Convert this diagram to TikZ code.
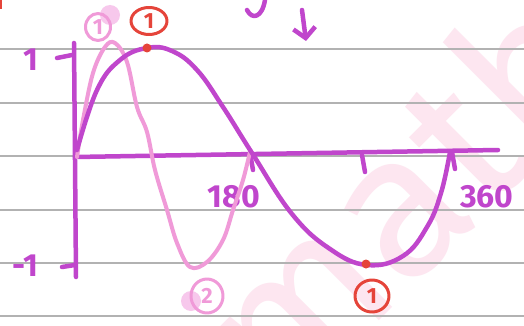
\documentclass[tikz,border=0pt]{standalone}
\usepackage{fontspec}
\setmainfont{Fira Sans}
\usepackage{xcolor}
\definecolor{penPurple}{HTML}{C046CC}
\definecolor{penPink}{HTML}{F09AD8}
\definecolor{penBlob}{HTML}{F7C8EC}
\definecolor{penRed}{HTML}{E5443A}
\definecolor{paperLine}{HTML}{B2B2B2}
\definecolor{wmPink}{HTML}{FDE6F0}
\usetikzlibrary{arrows.meta, shapes.geometric}

\begin{document}
\begin{tikzpicture}[x=1pt, y=-1pt, line cap=round, line join=round,
  pen/.style={draw=penPurple, line width=4.5pt},
  pinkpen/.style={draw=penPink, line width=4pt},
  penlabel/.style={text=penPurple, inner sep=0pt, font=\bfseries\fontsize{32}{32}\selectfont},
  ringlabel/.style={ellipse, line width=3pt, inner sep=0pt, font=\bfseries\fontsize{22}{22}\selectfont}]
  \useasboundingbox[fill=white] (0,0) rectangle (524,326);
  % watermark
  \node[rotate=45, text=wmPink, font=\fontsize{205}{205}\selectfont] (wm) at (398,195) {math};
  % ruled paper
  \foreach \ly in {49,103,156,210,263,316}
    \draw[paperLine, line width=1.2pt] (0,\ly) -- (524,\ly);
  % axes
  \coordinate (O) at (75,157);
  \coordinate (ytop) at (74,43);
  \coordinate (ybot) at (76,277);
  \coordinate (xend) at (498,150);
  \draw[pen] (ytop) -- (ybot);
  \draw[pen] (O) -- (xend);
  % tick marks and labels
  \coordinate (tickA) at (57,58);
  \coordinate (tickAx) at (72,55);
  \coordinate (tickB) at (62,267);
  \coordinate (tickBx) at (75,265);
  \draw[pen] (tickA) -- (tickAx);
  \draw[pen] (tickB) -- (tickBx);
  \foreach \tx/\ty in {250/153, 362/155, 452/152}
    \draw[pen] (\tx,\ty) -- (\tx+3,\ty+17);
  \node[penlabel] (one) at (31,60) {1};
  \node[penlabel] (minusone) at (25,266) {-1};
  \node[penlabel] (deg180) at (234,197) {180};
  \node[penlabel] (deg360) at (487,197) {360};
  % sin 2x
  \draw[pinkpen] plot[smooth, tension=0.6] coordinates {(77,157) (83,120) (93,73) (105,47) (115,43) (127,62)
    (137,107) (147,132) (155,170) (167,210) (177,243) (190,267) (207,262) (223,240) (233,210) (243,180) (250,152)};
  % sin x
  \draw[pen] plot[smooth, tension=0.7] coordinates {(77,150) (97,90) (120,60) (147,48) (172,51)
    (197,70) (223,107) (252,153) (292,214) (330,249) (367,265) (403,256) (427,227) (441,193) (450,152)};
  % maximum and minimum markers
  \node[circle, fill=penRed, inner sep=0pt, minimum size=9pt] (topdot) at (147,48) {};
  \node[circle, fill=penRed, inner sep=0pt, minimum size=9pt] (botdot) at (366,264) {};
  \node[ringlabel, draw=penRed, text=penRed, minimum width=36pt, minimum height=27pt] (topmark) at (149,21) {1};
  \node[ringlabel, draw=penRed, text=penRed, minimum width=34pt, minimum height=32pt] (botmark) at (372,296) {1};
  \fill[penBlob] (110,15) circle (10);
  \fill[penBlob] (191,301) circle (10);
  \node[ringlabel, draw=penPink, text=penPink, minimum width=25pt, minimum height=27pt] (pinkone) at (98,27) {1};
  \node[ringlabel, draw=penPink, text=penPink, minimum width=32pt, minimum height=34pt] (pinktwo) at (207,296) {2};
  % scraps at the top edge
  \coordinate (downtail) at (302,10);
  \coordinate (downhead) at (306,41);
  \draw[pen, -{Straight Barb[length=10pt, width=22pt]}] (downtail) -- (downhead);
  \draw[pen] (247,10) .. controls (252,20) and (262,18) .. (265,0);
  \fill[penRed] (0,0) rectangle (2,9);
\end{tikzpicture}
\end{document}
